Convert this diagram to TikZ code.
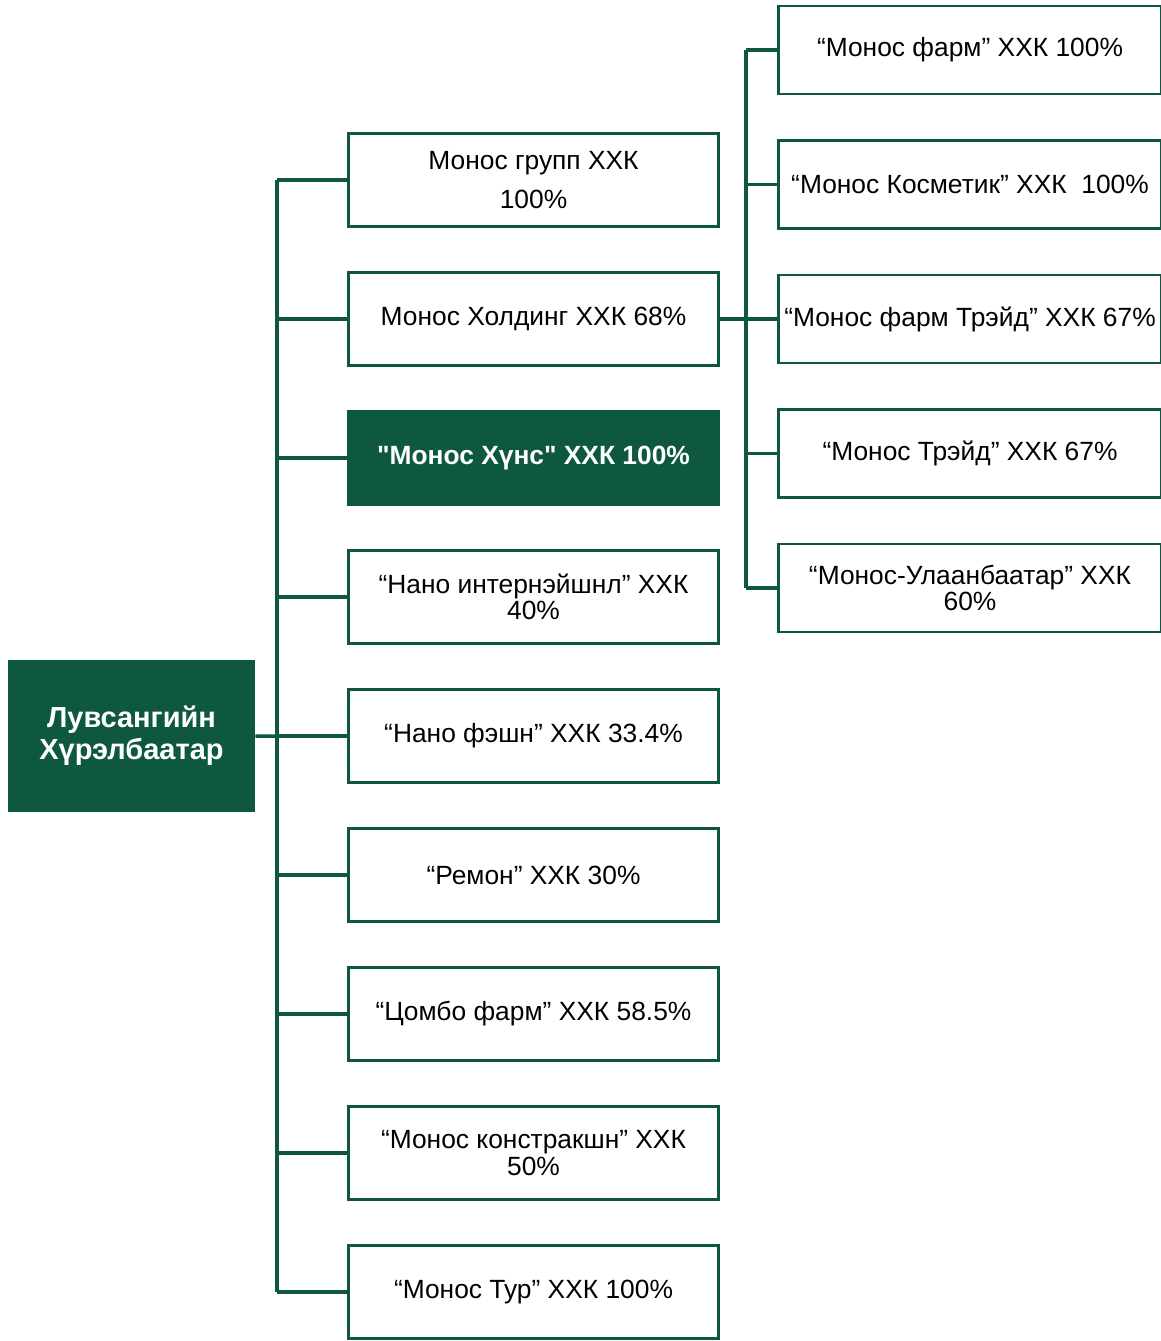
\documentclass[tikz,border=0pt]{standalone}
\usepackage{fontspec}
\setmainfont{Liberation Sans}
\newfontfamily\straightfont{Liberation Sans}
\usetikzlibrary{positioning}
\definecolor{monosgreen}{RGB}{14,88,66}

\begin{document}
\begin{tikzpicture}[node distance=2.78cm,
	firm/.style={rectangle, draw=monosgreen, line width=1.6pt, minimum width=7.4cm, minimum height=1.86cm, align=center, inner sep=0pt, font=\fontsize{15}{18}\selectfont},
	sub/.style={firm, minimum width=7.66cm, minimum height=1.76cm},
	dark/.style={firm, fill=monosgreen, text=white, font=\fontsize{15}{18}\straightfont\bfseries},
	owner/.style={rectangle, fill=monosgreen, text=white, minimum width=4.94cm, minimum height=3.04cm, align=center, font=\fontsize{16.5}{19}\selectfont\bfseries},
	link/.style={draw=monosgreen, line width=2pt}]
				\useasboundingbox (0,0) rectangle (23.22,-26.82);
				\clip (0,0) rectangle (23.22,-26.82);

				\node[owner]         (root) at (2.63,-14.72) {Лувсангийн\\[-1pt]Хүрэлбаатар};

				\node[firm]          (m1) at (10.67,-3.6)  {Монос групп ХХК\\[4pt]100\%};
				\node[firm]          (m2) [below of=m1]   {Монос Холдинг ХХК 68\%};
				\node[dark]          (m3) [below of=m2]   {"Монос Хүнс" ХХК 100\%};
				\node[firm]          (m4) [below of=m3]   {“Нано интернэйшнл” ХХК\\[-3pt]40\%};
				\node[firm]          (m5) [below of=m4]   {“Нано фэшн” ХХК 33.4\%};
				\node[firm]          (m6) [below of=m5]   {“Ремон” ХХК 30\%};
				\node[firm]          (m7) [below of=m6]   {“Цомбо фарм” ХХК 58.5\%};
				\node[firm]          (m8) [below of=m7]   {“Монос констракшн” ХХК\\[-3pt]50\%};
				\node[firm]          (m9) [below of=m8]   {“Монос Тур” ХХК 100\%};

				\node[sub]           (r1) at (19.4,-1.0)  {“Монос фарм” ХХК 100\%};
				\node[sub]           (r2) [below of=r1, node distance=2.69cm] {“Монос Косметик” ХХК~~100\%};
				\node[sub]           (r3) [below of=r2, node distance=2.69cm] {“Монос фарм Трэйд” ХХК 67\%};
				\node[sub]           (r4) [below of=r3, node distance=2.69cm] {“Монос Трэйд” ХХК 67\%};
				\node[sub]           (r5) [below of=r4, node distance=2.69cm] {“Монос-Улаанбаатар” ХХК\\[-3pt]60\%};

				% left trunk
				\coordinate (ttop) at ([xshift=-1.4cm]m1.west);
				\coordinate (tbot) at ([xshift=-1.4cm]m9.west);
				\draw[link] (ttop) -- (tbot);
				\foreach \i in {1,...,9}
					\draw[link] (m\i.west) -- (m\i.west -| ttop);
				\draw[link] (root.east) -- (m5.west);

				% right trunk
				\coordinate (rtop) at ([xshift=-0.62cm]r1.west);
				\coordinate (rbot) at ([xshift=-0.62cm]r5.west);
				\draw[link] (rtop) -- (rbot);
				\foreach \i in {1,...,5}
					\draw[link] (r\i.west) -- (r\i.west -| rtop);
				\draw[link] (m2.east) -- (r3.west);

			\end{tikzpicture}
\end{document}
